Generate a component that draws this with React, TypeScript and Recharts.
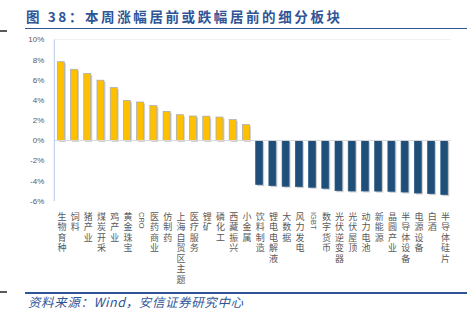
import React from 'react';
import { BarChart, Bar, XAxis, YAxis, Cell, ReferenceLine } from 'recharts';

const categories = [
    '生物育种', '饲料', '猪产业', '煤炭开采', '鸡产业', '黄金珠宝', 'CRO', '医药商业', '仿制药', '上海自贸区主题',
    '医疗服务', '锂矿', '磷化工', '西藏振兴', '小金属',
    '饮料制造', '锂电电解液', '大数据', '风力发电', 'IGBT', '数字货币', '光伏逆变器', '光伏屋顶', '动力电池', '新能源',
    '晶圆产业', '半导体设备', '电源设备', '白酒', '半导体硅片',
];

const changes = [
    7.8, 7.05, 6.63, 5.97, 5.24, 3.95, 3.81, 3.45, 2.88, 2.55,
    2.42, 2.41, 2.32, 2.06, 1.57,
    -4.38, -4.48, -4.54, -4.58, -4.64, -4.74, -4.98, -5.01, -5.01, -5.02,
    -5.04, -5.11, -5.21, -5.27, -5.37,
];

const yTicks = [-6, -4, -2, 0, 2, 4, 6, 8, 10];

const data = categories.map((name, i) => ({ name, value: changes[i] }));

const UP = '#FFC000';
const DOWN = '#1F4E79';
const BLUE = '#2F5597';
const CJK = '"Noto Sans CJK SC", "Noto Sans", sans-serif';

// vertical writing: CJK stays upright, latin (CRO, IGBT) turns sideways like the original
const CategoryTick = (props: any) => {
    const { x, y, payload } = props;
    const latin = /^[A-Za-z]+$/.test(payload.value);
    return (
        <text
            x={x + 1}
            y={y + 3}
            fontSize={latin ? 7.5 : 9}
            fill="#595959"
            fontFamily={latin ? '"Liberation Sans", Arial, sans-serif' : CJK}
            style={{ writingMode: 'vertical-rl', letterSpacing: latin ? 0 : 1.5 }}
        >
            {payload.value}
        </text>
    );
};

const ShadowBar = (props: any) => {
    const { x, y, width, height, fill } = props;
    if (height === undefined || width === undefined) return null;
    const h = Math.abs(height);
    const top = height < 0 ? y + height : y;
    return (
        <g>
            <rect x={x + 1.5} y={top + 1.5} width={width} height={h} fill="#a6a6a6" opacity={0.55} />
            <rect
                x={x}
                y={top}
                width={width}
                height={h}
                fill={fill}
                stroke={fill === UP ? '#9ea9ba' : '#2c5a86'}
                strokeWidth={0.7}
            />
        </g>
    );
};

export default function App() {
    return (
        <div style={{ position: 'absolute', left: 0, top: 0, width: 467, height: 327, background: '#fff' }}>
            <div style={{ position: 'absolute', left: 0, top: 30, width: 7, height: 2, background: '#595959' }} />
            <div
                style={{
                    position: 'absolute',
                    left: 26,
                    top: 6,
                    fontFamily: CJK,
                    fontWeight: 'bold',
                    fontSize: 13.5,
                    letterSpacing: 2.6,
                    color: BLUE,
                    whiteSpace: 'nowrap',
                    lineHeight: '20px',
                }}
            >
                图 38：本周涨幅居前或跌幅居前的细分板块
            </div>
            <div style={{ position: 'absolute', left: 25, top: 27.5, width: 442, height: 1.5, background: BLUE }} />

            <div style={{ position: 'absolute', left: 0, top: 0 }}>
                <BarChart
                    width={467}
                    height={290}
                    data={data}
                    margin={{ top: 39.5, right: 16, left: 0, bottom: 0 }}
                    barCategoryGap={0}
                >
                    <ReferenceLine y={10} stroke="#f0f0f0" strokeWidth={1} />
                    <ReferenceLine y={0} stroke="#d9d9d9" strokeWidth={1} />
                    <XAxis
                        dataKey="name"
                        interval={0}
                        axisLine={false}
                        tickLine={false}
                        height={89}
                        tick={<CategoryTick />}
                    />
                    <YAxis
                        domain={[-6, 10]}
                        ticks={yTicks}
                        width={54.3}
                        axisLine={{ stroke: '#b4c7e7' }}
                        tickLine={false}
                        tickFormatter={(v: number) => `${v}%`}
                        tick={{ fontSize: 8, fill: '#595959', fontFamily: '"Liberation Sans Narrow", "Liberation Sans", Arial, sans-serif' }}
                        tickMargin={4}
                        interval={0}
                    />
                    <Bar dataKey="value" barSize={7} isAnimationActive={false} shape={<ShadowBar />}>
                        {data.map((d, i) => (
                            <Cell key={i} fill={d.value >= 0 ? UP : DOWN} />
                        ))}
                    </Bar>
                </BarChart>
            </div>

            <div style={{ position: 'absolute', left: 0, top: 291, width: 7, height: 2, background: '#595959' }} />
            <div style={{ position: 'absolute', left: 25, top: 292, width: 442, height: 1.5, background: BLUE }} />
            <div
                style={{
                    position: 'absolute',
                    left: 28,
                    top: 294,
                    fontFamily: CJK,
                    fontStyle: 'italic',
                    fontSize: 12.5,
                    letterSpacing: 0.6,
                    color: BLUE,
                    whiteSpace: 'nowrap',
                    lineHeight: '16px',
                }}
            >
                资料来源：Wind，安信证券研究中心
            </div>
        </div>
    );
}
